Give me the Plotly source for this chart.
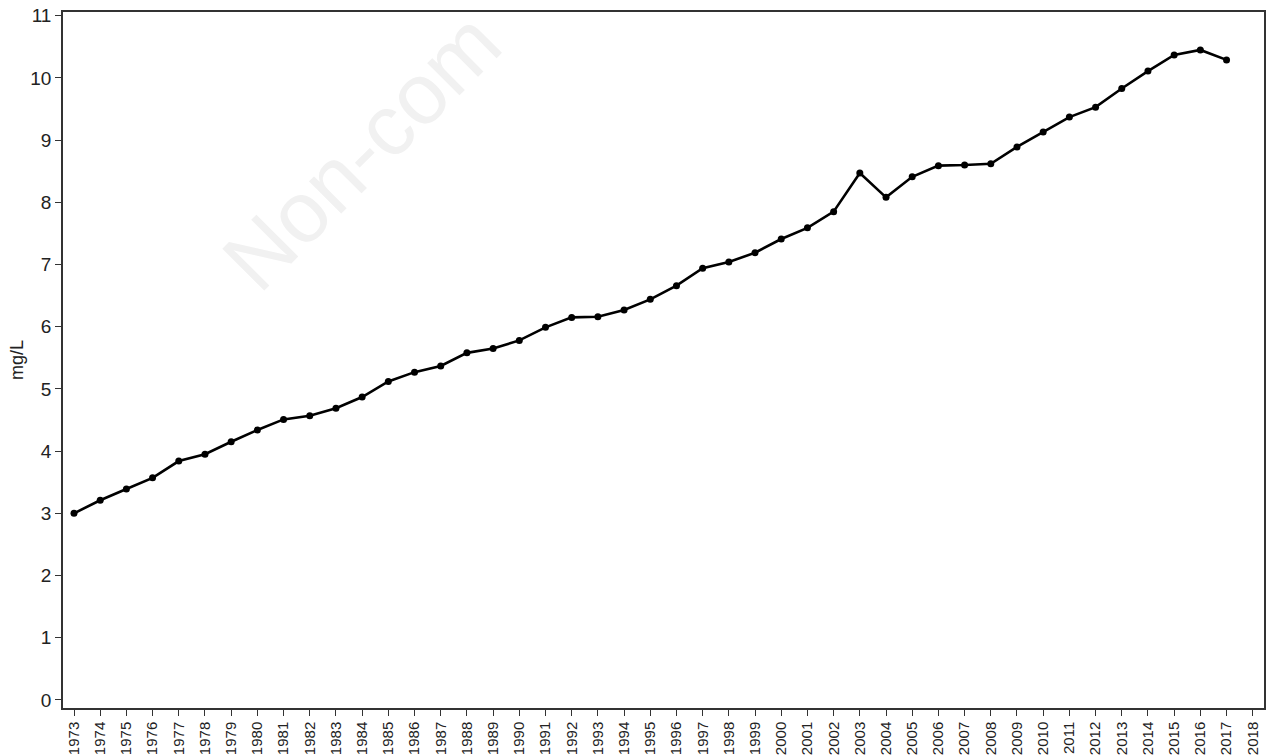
import plotly.graph_objects as go

years = list(range(1973, 2018))
values = [3.00, 3.21, 3.39, 3.57, 3.84, 3.95, 4.15, 4.34, 4.51, 4.57,
          4.69, 4.87, 5.12, 5.27, 5.37, 5.58, 5.65, 5.78, 5.99, 6.15,
          6.16, 6.27, 6.44, 6.66, 6.94, 7.04, 7.19, 7.41, 7.59, 7.85,
          8.47, 8.08, 8.41, 8.59, 8.60, 8.62, 8.89, 9.13, 9.37, 9.53,
          9.83, 10.11, 10.37, 10.45, 10.29]
tick_years = list(range(1973, 2019))
y_ticks = list(range(0, 12))

fig = go.Figure()
fig.add_trace(go.Scatter(
    x=years, y=values, mode="lines+markers",
    line=dict(color="black", width=2.6),
    marker=dict(color="black", size=7),
    showlegend=False,
))

fig.add_annotation(
    text="Non-com", xref="paper", yref="paper",
    x=0.115, y=0.57, xanchor="left", yanchor="bottom",
    textangle=-45, showarrow=False,
    font=dict(family="Liberation Sans, Arial", size=86, color="#f1f1f1"),
)

axis_common = dict(
    showline=True, linecolor="#333333", linewidth=1.5, mirror=True,
    ticks="outside", ticklen=6, tickwidth=1.2, tickcolor="#333333",
    showgrid=False, zeroline=False, automargin=False,
)

fig.update_layout(
    width=1278, height=756,
    margin=dict(l=63, r=14, t=12, b=48),
    paper_bgcolor="white", plot_bgcolor="white",
    xaxis=dict(range=[1972.58, 2018.43], tickmode="array",
               tickvals=tick_years, ticktext=[str(t) for t in tick_years],
               tickangle=-90,
               tickfont=dict(family="Liberation Sans, Arial", size=15, color="#222222"),
               **axis_common),
    yaxis=dict(range=[-0.13, 11.06], tickmode="array", tickvals=y_ticks,
               tickfont=dict(family="Liberation Sans, Arial", size=19, color="#222222"),
               title=dict(text="mg/L", standoff=2,
                          font=dict(family="Liberation Sans, Arial", size=18, color="#222222")),
               **axis_common),
)

fig.write_html("out.html",
               config={"displayModeBar": False},
               post_script="document.body.style.margin='0';document.body.style.overflow='hidden';")
